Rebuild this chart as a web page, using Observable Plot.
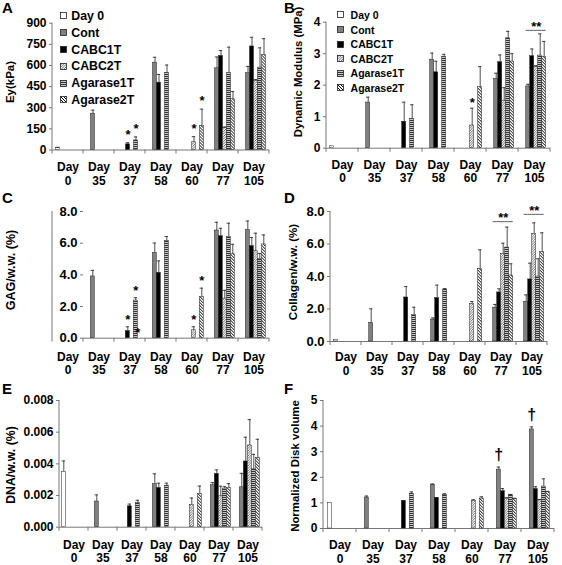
<!DOCTYPE html>
<html><head><meta charset="utf-8">
<script src="https://cdn.jsdelivr.net/npm/d3@7"></script>
<script src="https://cdn.jsdelivr.net/npm/@observablehq/plot@0.6"></script>
<style>
body{margin:0;background:#fff;}
#root{position:relative;width:562px;height:565px;font-family:'Liberation Sans',Arial,sans-serif;font-weight:bold;color:#000;background:#fff;overflow:hidden;}
.panel{position:absolute;}
.letter{position:absolute;font-size:15px;line-height:15px;}
.ytitle{position:absolute;white-space:nowrap;transform:translate(-50%,-50%) rotate(-90deg);line-height:1;}
.legend{position:absolute;}
.legend .row{display:flex;align-items:center;white-space:nowrap;}
.legend svg{display:block;flex:none;}
</style></head>
<body><div id="root">
<svg width="0" height="0" style="position:absolute">
<defs>
<pattern id="pC2" patternUnits="userSpaceOnUse" width="2.5" height="2.5"><rect width="2.5" height="2.5" fill="#fff"/><path d="M-0.5,0.5 l1,-1 M0,2.5 l2.5,-2.5 M2,3 l1,-1" stroke="#444" stroke-width="0.8"/></pattern>
<pattern id="pA1" patternUnits="userSpaceOnUse" width="4" height="2"><rect width="4" height="2" fill="#c8c8c8"/><rect width="4" height="1" fill="#333"/></pattern>
<pattern id="pA2" patternUnits="userSpaceOnUse" width="3" height="3"><rect width="3" height="3" fill="#fff"/><path d="M-0.75,2.25 l1.5,1.5 M0,0 l3,3 M2.25,-0.75 l1.5,1.5" stroke="#000" stroke-width="1"/></pattern>
</defs></svg>
</div>
<script>
const n = null;
const series = ["Day 0", "Cont", "CABC1T", "CABC2T", "Agarase1T", "Agarase2T"];
const days = [0, 35, 37, 58, 60, 77, 105];

// A: Ey (kPa) — rows follow series, columns follow days
const eyMean = [
  [15, n, n, n, n, n, n],
  [n, 258, n, 620, n, 580, 545],
  [n, n, 40, 478, n, 668, 735],
  [n, n, n, n, 55, 155, 490],
  [n, n, 68, 548, n, 545, 585],
  [n, n, n, n, 172, 360, 675]
];
const eyErr = [
  [4, n, n, n, n, n, n],
  [n, 25, n, 38, n, 80, 48],
  [n, n, 12, 58, n, 38, 65],
  [n, n, n, n, 40, 8, 10],
  [n, n, 25, 55, n, 185, 140],
  [n, n, n, n, 118, 55, 115]
];
const eyTicks = [0, 150, 300, 450, 600, 750, 900];
const eyStars = [[37, "CABC1T"], [37, "Agarase1T"], [60, "CABC2T"], [60, "Agarase2T"]];

// B: Dynamic Modulus (MPa)
const modMean = [
  [0.06, n, n, n, n, n, n],
  [n, 1.45, n, 2.81, n, 2.2, 1.96],
  [n, n, 0.84, 2.41, n, 2.73, 2.92],
  [n, n, n, n, 0.72, 1.51, 2.57],
  [n, n, 0.93, 2.9, n, 3.49, 2.94],
  [n, n, n, n, 1.94, 2.75, 2.9]
];
const modErr = [
  [0, n, n, n, n, n, n],
  [n, 0.17, n, 0.21, n, 0.18, 0.07],
  [n, n, 0.62, 0.35, n, 0.23, 0.23],
  [n, n, n, n, 0.55, 0.41, 0.05],
  [n, n, 0.45, 0.08, n, 0.22, 0.69],
  [n, n, n, n, 0.65, 0.25, 0.49]
];
const modTicks = [0, 1, 2, 3, 4];
const modStars = [[60, "CABC2T"]];
const modBrackets = [[105, 3.74]];

// C: GAG/w.w. (%)
const gagMean = [
  [n, n, n, n, n, n, n],
  [n, 3.9, n, 5.39, n, 6.8, 6.84],
  [n, n, 0.45, 4.13, n, 6.44, 5.82],
  [n, n, n, n, 0.5, 2.5, 5.49],
  [n, n, 2.38, 6.15, n, 6.38, 5.0],
  [n, n, n, n, 2.6, 5.3, 5.92]
];
const gagErr = [
  [n, n, n, n, n, n, n],
  [n, 0.38, n, 0.62, n, 0.52, 0.56],
  [n, n, 0.27, 0.75, n, 0.5, 0.54],
  [n, n, n, n, 0.22, 0.52, 1.14],
  [n, n, 0.18, 0.27, n, 0.88, 0.35],
  [n, n, n, n, 0.56, 0.63, 0.6]
];
const gagTicks = [0, 2, 4, 6, 8];
const gagStars = [[37, "CABC1T"], [37, "Agarase1T"], [60, "CABC2T"], [60, "Agarase2T"]];
const gagLowStars = [[37, "Agarase2T", 0.35]];

// D: Collagen/w.w. (%)
const colMean = [
  [0.1, n, n, n, n, n, n],
  [n, 1.15, n, 1.35, n, 2.08, 2.44],
  [n, n, 2.71, 2.67, n, 3.02, 3.82],
  [n, n, n, n, 2.32, 5.39, 6.63],
  [n, n, 1.64, 3.2, n, 5.78, 4.0],
  [n, n, n, n, 4.47, 4.06, 5.5]
];
const colErr = [
  [0, n, n, n, n, n, n],
  [n, 0.86, n, 0.1, n, 0.2, 0.43],
  [n, n, 0.67, 0.8, n, 0.22, 1.0],
  [n, n, n, n, 0.14, 0.66, 0.67],
  [n, n, 0.47, 0.05, n, 1.26, 1.09],
  [n, n, n, n, 1.17, 0.72, 1.19]
];
const colTicks = [0, 2, 4, 6, 8];
const colBrackets = [[77, 7.38], [105, 7.82]];

// E: DNA/w.w. (%)
const dnaMean = [
  [0.0035, n, n, n, n, n, n],
  [n, 0.00162, n, 0.00272, n, 0.00265, 0.00252],
  [n, n, 0.00132, 0.00248, n, 0.00337, 0.00415],
  [n, n, n, n, 0.00141, 0.00195, 0.00516],
  [n, n, 0.00152, 0.00262, n, 0.00244, 0.00365],
  [n, n, n, n, 0.0021, 0.00248, 0.00438]
];
const dnaErr = [
  [0.00068, n, n, n, n, n, n],
  [n, 0.00042, n, 0.00065, n, 0.00017, 0.00088],
  [n, n, 0.00014, 0.0003, n, 0.00025, 0.00153],
  [n, n, n, n, 0.00043, 0.00064, 0.00163],
  [n, n, 0.00018, 0.00016, n, 0.00012, 0.00095],
  [n, n, n, n, 0.0005, 0.00027, 0.00117]
];
const dnaTicks = [0, 0.002, 0.004, 0.006, 0.008];

// F: Normalized Disk volume
const volMean = [
  [1.0, n, n, n, n, n, n],
  [n, 1.21, n, 1.71, n, 2.3, 3.87],
  [n, n, 1.07, 1.19, n, 1.46, 1.54],
  [n, n, n, n, 1.09, 1.17, 1.1],
  [n, n, 1.36, 1.31, n, 1.3, 1.64],
  [n, n, n, n, 1.17, 1.15, 1.42]
];
const volErr = [
  [0, n, n, n, n, n, n],
  [n, 0.06, n, 0.03, n, 0.1, 0.1],
  [n, n, 0.02, 0.02, n, 0.1, 0.09],
  [n, n, n, n, 0.03, 0.03, 0.03],
  [n, n, 0.07, 0.05, n, 0.03, 0.3],
  [n, n, n, n, 0.07, 0.03, 0.03]
];
const volTicks = [0, 1, 2, 3, 4, 5];
const volDaggers = [[77, "Cont"], [105, "Cont"]];

// styles
const fills = ["#fff", "#808080", "#000", "url(#pC2)", "url(#pA1)", "url(#pA2)"];
const axisColor = "#777";

const panels = [
  {letter: "A", left: 0, top: 0, w: 281, h: 185, ml: 49.5, mr: 10.5, mt: 22.7, mb: 35.5, tickPad: 11, lh: 1.15,
   mean: eyMean, err: eyErr, ticks: eyTicks, fmt: d3.format("d"), yFont: 12, stars: eyStars, starDy: -8,
   title: "Ey(kPa)", tx: 10.5, ty: 82, tFont: 11.5, letterX: 2, letterY: 0,
   legend: {x: 60, y: 7.6, rowH: 16.8, font: 12.3, gap: 4.3}},
  {letter: "B", left: 281, top: 0, w: 281, h: 185, ml: 43.3, mr: 10.5, mt: 21.7, mb: 37.3, tickPad: 10.6, lh: 1.15,
   mean: modMean, err: modErr, ticks: modTicks, fmt: d3.format("d"), yFont: 12, stars: modStars, starDy: -5,
   brackets: modBrackets,
   title: "Dynamic Modulus (MPa)", tx: 18, ty: 72, tFont: 11.3, letterX: 3, letterY: 0,
   legend: {x: 56, y: 7.7, rowH: 14.6, font: 10.5, gap: 6.6}},
  {letter: "C", left: 0, top: 185, w: 281, h: 190, ml: 51.7, mr: 11.7, mt: 26, mb: 37.3, tickPad: 13, lh: 1.12,
   mean: gagMean, err: gagErr, ticks: gagTicks, fmt: d3.format(".1f"), yFont: 13, stars: gagStars, starDy: -7,
   lowStars: gagLowStars,
   title: "GAG/w.w. (%)", tx: 11, ty: 85, tFont: 12.5, letterX: 2, letterY: 5},
  {letter: "D", left: 281, top: 185, w: 281, h: 190, ml: 49.3, mr: 14.7, mt: 26, mb: 34, tickPad: 9.5, lh: 1.15,
   mean: colMean, err: colErr, ticks: colTicks, fmt: d3.format(".1f"), yFont: 13,
   brackets: colBrackets,
   title: "Collagen/w.w. (%)", tx: 13, ty: 87, tFont: 11.5, letterX: 3, letterY: 5},
  {letter: "E", left: 0, top: 375, w: 281, h: 190, ml: 56.7, mr: 17.7, mt: 25, mb: 38.3, tickPad: 12, lh: 1.1,
   mean: dnaMean, err: dnaErr, ticks: dnaTicks, fmt: d3.format(".3f"), yFont: 12,
   title: "DNA/w.w. (%)", tx: 11, ty: 90, tFont: 12.3, letterX: 2, letterY: 6},
  {letter: "F", left: 281, top: 375, w: 281, h: 190, ml: 41.7, mr: 8.3, mt: 25, mb: 37, tickPad: 11.5, lh: 1.1,
   mean: volMean, err: volErr, ticks: volTicks, fmt: d3.format("d"), yFont: 12,
   daggers: volDaggers,
   title: "Normalized Disk volume", tx: 15, ty: 91, tFont: 11.4, letterX: 3, letterY: 6}
];

function rows(mean, err) {
  const out = [];
  series.forEach((s, i) => days.forEach((d, j) => {
    const v = mean[i][j];
    if (v != null) out.push({day: d, series: s, value: v, err: err[i][j] || 0});
  }));
  return out;
}

function makePanel(cfg) {
  const data = rows(cfg.mean, cfg.err);
  const withErr = data.filter(d => d.err > 0);
  const lookup = new Map(data.map(d => [d.day + "|" + d.series, d]));
  const top = (day, s) => { const r = lookup.get(day + "|" + s); return r.value + r.err; };
  const stars = (cfg.stars || []).map(([day, s]) => ({day, series: s, y: top(day, s)}));
  const lowStars = (cfg.lowStars || []).map(([day, s, y]) => ({day, series: s, y}));
  const daggers = (cfg.daggers || []).map(([day, s]) => ({day, series: s, y: top(day, s)}));
  const brackets = cfg.brackets || [];
  const bracketSegs = [];
  brackets.forEach(([day, y]) => series.slice(1).forEach(s => bracketSegs.push({day, series: s, y})));
  const bracketText = brackets.map(([day, y]) => ({day, series: "CABC2T", y}));

  const plot = Plot.plot({
    width: cfg.w, height: cfg.h,
    marginLeft: cfg.ml, marginRight: cfg.mr, marginTop: cfg.mt, marginBottom: cfg.mb,
    fx: {domain: days, padding: 0, label: null},
    x: {domain: series, paddingInner: 0, paddingOuter: 0.55, axis: null},
    y: {domain: [cfg.ticks[0], cfg.ticks[cfg.ticks.length - 1]]},
    color: {type: "ordinal", domain: series, range: fills},
    style: {fontFamily: "'Liberation Sans', Arial, sans-serif", fontWeight: "bold", fontSize: "12px", background: "transparent", overflow: "visible", color: "#000"},
    marks: [
      Plot.ruleY([0], {stroke: axisColor}),
      Plot.barY(data, {fx: "day", x: "series", y1: () => 0, y2: "value", fill: "series", stroke: "#222", strokeWidth: 0.5}),
      Plot.ruleX(withErr, {fx: "day", x: "series", y1: "value", y2: d => d.value + d.err, stroke: "#222", strokeWidth: 0.8}),
      Plot.tickY(withErr, {fx: "day", x: "series", y: d => d.value + d.err, stroke: "#222", strokeWidth: 0.8, insetLeft: 0.3, insetRight: 0.3}),
      Plot.text(stars, {fx: "day", x: "series", y: "y", text: () => "*", fill: "#000", fontSize: 13, lineAnchor: "middle", dy: cfg.starDy || 0}),
      Plot.text(lowStars, {fx: "day", x: "series", y: "y", text: () => "*", fill: "#000", fontSize: 13, lineAnchor: "middle", dx: -2}),
      Plot.text(daggers, {fx: "day", x: "series", y: "y", text: () => "\u2020", fill: "#000", fontSize: 16, lineAnchor: "middle", dy: -12}),
      Plot.tickY(bracketSegs, {fx: "day", x: "series", y: "y", stroke: "#777", strokeWidth: 1.2}),
      Plot.text(bracketText, {fx: "day", x: "series", y: "y", text: () => "**", fill: "#000", fontSize: 13, lineAnchor: "middle", dy: -3.5}),
      Plot.axisY({ticks: cfg.ticks, tickFormat: cfg.fmt, tickSize: 3, tickPadding: 3, label: null, fontSize: cfg.yFont, stroke: axisColor, fill: "#000"}),
      Plot.axisFx({anchor: "bottom", tickSize: 0, tickPadding: cfg.tickPad, tickFormat: d => "Day\n" + d, label: null, lineHeight: cfg.lh, fontSize: 12, fill: "#000"})
    ]
  });

  // axis line and group separators, positioned from Plot's own scales
  const ys = plot.scale("y"), fxs = plot.scale("fx");
  let edges;
  if (fxs && typeof fxs.apply === "function" && fxs.bandwidth) {
    edges = days.map(d => fxs.apply(d));
    edges.push(edges[edges.length - 1] + fxs.bandwidth);
  } else {
    const x0 = cfg.ml, x1 = cfg.w - cfg.mr;
    edges = d3.range(days.length + 1).map(i => x0 + i * (x1 - x0) / days.length);
  }
  const y0 = ys.apply(0), y1 = ys.apply(cfg.ticks[cfg.ticks.length - 1]);
  const g = d3.select(plot).append("g").attr("stroke", axisColor).attr("stroke-width", 1);
  g.append("line").attr("x1", edges[0]).attr("x2", edges[0]).attr("y1", y0).attr("y2", y1);
  edges.forEach(x => g.append("line").attr("x1", x).attr("x2", x).attr("y1", y0).attr("y2", y0 + 4));

  const wrap = document.createElement("div");
  wrap.className = "panel";
  Object.assign(wrap.style, {left: cfg.left + "px", top: cfg.top + "px", width: cfg.w + "px", height: cfg.h + "px"});
  plot.style.position = "absolute";
  plot.style.left = "0px";
  plot.style.top = "0px";
  wrap.appendChild(plot);

  const letter = document.createElement("div");
  letter.className = "letter";
  letter.textContent = cfg.letter;
  Object.assign(letter.style, {left: cfg.letterX + "px", top: cfg.letterY + "px"});
  wrap.appendChild(letter);

  const title = document.createElement("div");
  title.className = "ytitle";
  title.textContent = cfg.title;
  Object.assign(title.style, {left: cfg.tx + "px", top: cfg.ty + "px", fontSize: cfg.tFont + "px"});
  wrap.appendChild(title);

  if (cfg.legend) {
    const L = cfg.legend;
    const leg = document.createElement("div");
    leg.className = "legend";
    Object.assign(leg.style, {left: L.x + "px", top: L.y + "px", fontSize: L.font + "px"});
    series.forEach((s, i) => {
      const row = document.createElement("div");
      row.className = "row";
      row.style.height = L.rowH + "px";
      row.innerHTML = `<svg width="7" height="7" style="margin-right:${L.gap}px"><rect x="0.5" y="0.5" width="6" height="6" fill="${fills[i]}" stroke="#222" stroke-width="0.8"/></svg><span>${s}</span>`;
      leg.appendChild(row);
    });
    wrap.appendChild(leg);
  }
  document.getElementById("root").appendChild(wrap);
}

panels.forEach(makePanel);
</script>
</body></html>
